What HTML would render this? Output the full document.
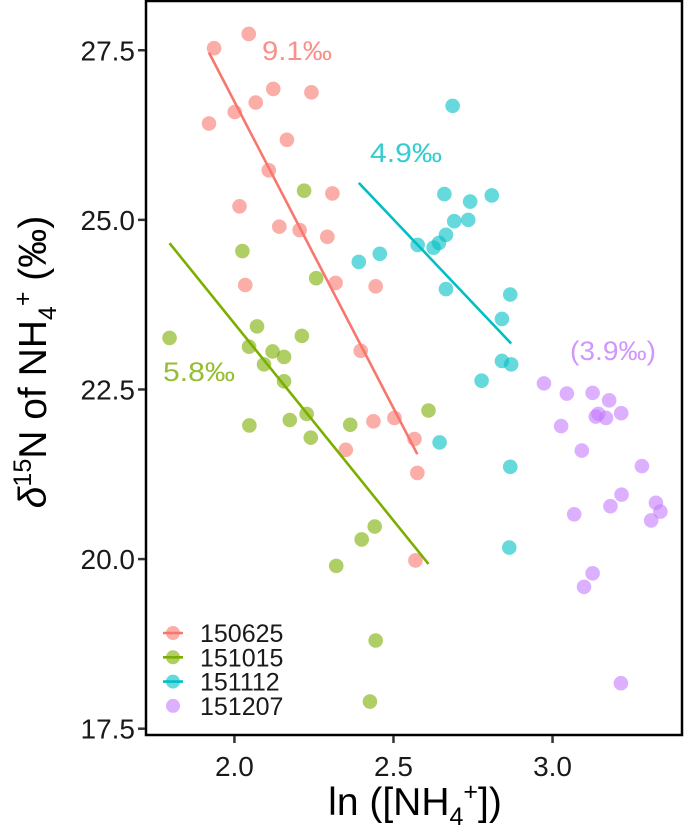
<!DOCTYPE html>
<html><head><meta charset="utf-8"><style>
body{margin:0;background:#fff;}
svg{display:block;font-family:"Liberation Sans",sans-serif;}
</style></head><body>
<svg id="chart" width="685" height="833" viewBox="0 0 685 833" xmlns="http://www.w3.org/2000/svg">
<g id="plot"></g>
</svg>
<script>
const seriesNames = ["150625","151015","151112","151207"];
const seriesColors = ["#F8766D","#7CAE00","#00BFC4","#C77CFF"];
const x150625 = [1.936,2.045,2.242,2.122,2.067,2.001,1.920,2.165,2.108,2.308,2.016,2.141,2.205,2.292,2.034,2.318,2.444,2.397,2.437,2.503,2.566,2.575,2.350,2.569];
const y150625 = [27.53,27.74,26.88,26.93,26.73,26.59,26.42,26.18,25.73,25.39,25.20,24.90,24.85,24.75,24.04,24.07,24.02,23.07,22.03,22.08,21.77,21.27,21.61,19.98];
const x151015 = [2.219,2.025,2.257,1.796,2.071,2.046,2.120,2.156,2.212,2.093,2.156,2.047,2.174,2.227,2.240,2.364,2.610,2.441,2.400,2.320,2.444,2.426];
const y151015 = [25.43,24.54,24.14,23.26,23.43,23.13,23.06,22.98,23.29,22.87,22.62,21.97,22.05,22.14,21.79,21.98,22.19,20.48,20.29,19.90,18.80,17.90];
const x151112 = [2.686,2.660,2.741,2.809,2.691,2.735,2.665,2.643,2.626,2.576,2.457,2.391,2.665,2.867,2.841,2.841,2.870,2.777,2.867,2.864,2.645];
const y151112 = [26.68,25.38,25.27,25.36,24.98,25.00,24.78,24.66,24.59,24.63,24.50,24.38,23.98,23.90,23.54,22.92,22.87,22.63,21.36,20.17,21.72];
const x151207 = [2.973,3.045,3.126,3.178,3.216,3.144,3.136,3.168,3.027,3.092,3.281,3.217,3.182,3.325,3.339,3.310,3.068,3.126,3.099,3.215];
const y151207 = [22.59,22.44,22.45,22.34,22.15,22.14,22.10,22.08,21.96,21.60,21.37,20.95,20.78,20.83,20.70,20.57,20.66,19.79,19.59,18.17];
const slopeLabels = ["9.1‰","5.8‰","4.9‰","(3.9‰)"];
const xTicks = [2.0,2.5,3.0];
const xTickLabels = ["2.0","2.5","3.0"];
const yTicks = [17.5,20.0,22.5,25.0,27.5];
const yTickLabels = ["17.5","20.0","22.5","25.0","27.5"];

const NS="http://www.w3.org/2000/svg";
const svg=document.getElementById('chart');
const plot=document.getElementById('plot');
const L=146,R=682,T=1,B=735;
const X0=1.722,X1=3.407,Y0=17.407,Y1=28.226;
function sx(v){return L+(v-X0)/(X1-X0)*(R-L);}
function sy(v){return B-(v-Y0)/(Y1-Y0)*(B-T);}
function mk(tag,attrs,parent){const e=document.createElementNS(NS,tag);for(const k in attrs)e.setAttribute(k,attrs[k]);(parent||svg).appendChild(e);return e;}

const xs=[x150625,x151015,x151112,x151207], ys=[y150625,y151015,y151112,y151207];
const drawLine=[true,true,true,false];
const labelPos=[[262,60],[163,381],[370,162],[570,360]];
const labelLen=[70,72,72,86];

for(let s=0;s<4;s++){
  for(let i=0;i<xs[s].length;i++){
    const c=mk('circle',{cx:sx(xs[s][i]),cy:sy(ys[s][i]),r:7.3,fill:seriesColors[s],'fill-opacity':0.6},plot);
    
    
  }
}
for(let s=0;s<4;s++){
  if(!drawLine[s])continue;
  const X=xs[s],Y=ys[s],n=X.length;
  let mx=0,my=0;for(let i=0;i<n;i++){mx+=X[i];my+=Y[i];}mx/=n;my/=n;
  let sxy=0,sxx=0;for(let i=0;i<n;i++){sxy+=(X[i]-mx)*(Y[i]-my);sxx+=(X[i]-mx)**2;}
  const b=sxy/sxx,a=my-b*mx;
  const lo=Math.min(...X),hi=Math.max(...X);
  const ln=mk('line',{x1:sx(lo),y1:sy(a+b*lo),x2:sx(hi),y2:sy(a+b*hi),stroke:seriesColors[s],'stroke-width':2.6},plot);
  
  
}
for(let s=0;s<4;s++){
  const t=mk('text',{x:labelPos[s][0],y:labelPos[s][1],fill:seriesColors[s],'fill-opacity':0.8,'font-size':27,textLength:labelLen[s],lengthAdjust:'spacingAndGlyphs'},svg);
  t.textContent=slopeLabels[s];
  
  
}
const fr=mk('rect',{x:L,y:T,width:R-L,height:B-T,fill:'none',stroke:'#000','stroke-width':2.5});


for(let i=0;i<xTicks.length;i++){
  const x=sx(xTicks[i]);
  const tk=mk('line',{x1:x,y1:B+1,x2:x,y2:B+8,stroke:'#333','stroke-width':2.5});
  
  
  const t=mk('text',{x:x,y:B+41,'text-anchor':'middle','font-size':28,fill:'#1a1a1a'});
  t.textContent=xTickLabels[i];
  
  
}
for(let i=0;i<yTicks.length;i++){
  const y=sy(yTicks[i]);
  const tk=mk('line',{x1:L-1,y1:y,x2:L-8,y2:y,stroke:'#333','stroke-width':2.5});
  
  
  const t=mk('text',{x:L-11,y:y+10,'text-anchor':'end','font-size':28,fill:'#1a1a1a'});
  t.textContent=yTickLabels[i];
  
  
}
for(let s=0;s<4;s++){
  const y=633+s*24.3;
  if(drawLine[s]){
    const l=mk('line',{x1:163,y1:y,x2:183,y2:y,stroke:seriesColors[s],'stroke-width':2.6});
    
    
  }
  const c=mk('circle',{cx:173,cy:y,r:7,fill:seriesColors[s],'fill-opacity':0.6});
  
  
  const t=mk('text',{x:200,y:y+9,'font-size':25,fill:'#1a1a1a'});
  t.textContent=seriesNames[s];
  
  
}
</script>
<svg style="position:absolute;left:0;top:0" width="685" height="833">
<text transform="translate(46,362) rotate(-90)" text-anchor="middle" font-family="Liberation Sans, sans-serif" font-size="39" fill="#000"><tspan font-style="italic">δ</tspan><tspan font-size="25" dy="-15">15</tspan><tspan dy="15">N of NH</tspan><tspan font-size="25" dy="10">4</tspan><tspan font-size="25" dy="-25">+</tspan><tspan dy="15"> (‰)</tspan></text>
<text x="415" y="815" text-anchor="middle" font-family="Liberation Sans, sans-serif" font-size="39" fill="#000">ln ([NH<tspan font-size="25" dy="10">4</tspan><tspan font-size="25" dy="-25">+</tspan><tspan dy="15">])</tspan></text>
</svg>
</body></html>
